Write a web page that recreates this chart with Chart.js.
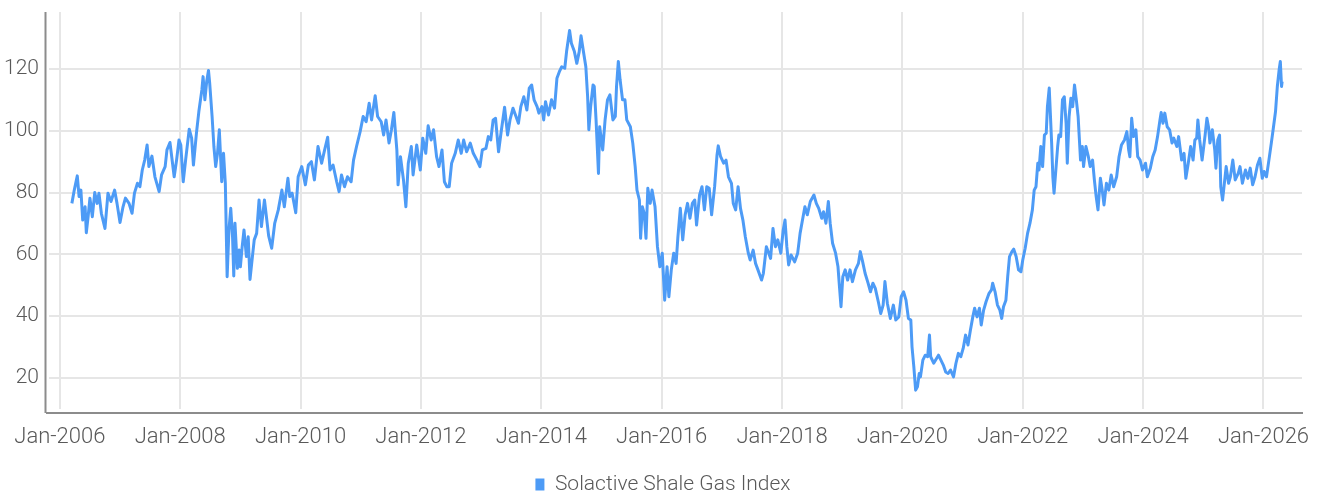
<!DOCTYPE html>
<html>
<head>
<meta charset="utf-8">
<script src="https://cdn.jsdelivr.net/npm/chart.js@4.4.1/dist/chart.umd.min.js"></script>
<style>
  html, body { margin: 0; padding: 0; background: #fff; }
  #wrap { width: 1320px; height: 496px; }
</style>
</head>
<body>
<div id="wrap"><canvas id="line-chart"></canvas></div>
<script>
// Solactive Shale Gas Index as [decimal year, level]
var seg2006 = [[2006.20,76.5],[2006.24,80.8],[2006.29,85.4],[2006.32,78.7],[2006.35,80.8],[2006.38,71.1],[2006.42,75.4],[2006.44,67.0],[2006.47,72.2],[2006.50,78.2],[2006.54,72.2],[2006.58,80.0],[2006.62,76.5],[2006.65,79.8],[2006.69,73.3],[2006.75,68.4],[2006.80,79.8],[2006.85,77.1],[2006.91,80.8],[2006.95,76.5],[2007.00,70.3],[2007.05,75.4],[2007.09,78.2],[2007.15,76.5],[2007.20,73.3],[2007.24,79.8],[2007.29,83.0],[2007.33,81.9],[2007.37,87.3],[2007.41,90.5],[2007.45,95.4],[2007.48,88.4],[2007.53,91.8],[2007.58,85.1],[2007.65,80.3],[2007.69,85.7],[2007.75,88.4],[2007.78,93.8],[2007.83,96.2],[2007.90,85.1],[2007.94,90.5],[2007.98,97.0],[2008.01,95.4],[2008.05,83.5],[2008.09,90.5],[2008.15,100.5],[2008.19,97.6],[2008.22,88.9],[2008.27,99.2],[2008.31,106.2],[2008.36,113.2],[2008.38,117.5],[2008.41,110.0],[2008.44,115.9],[2008.47,119.5],[2008.49,115.4],[2008.53,104.6],[2008.56,94.9],[2008.59,88.4],[2008.62,92.7],[2008.65,100.3],[2008.69,83.5],[2008.72,92.7],[2008.75,83.0],[2008.78,52.8],[2008.81,67.9],[2008.84,74.9],[2008.87,65.7],[2008.89,53.0],[2008.91,70.1],[2008.95,55.5],[2008.98,61.4],[2009.00,56.0],[2009.03,62.5],[2009.06,67.9],[2009.10,59.3],[2009.13,65.7],[2009.16,51.9],[2009.20,59.3],[2009.23,64.7],[2009.27,66.8],[2009.31,77.6],[2009.35,69.0],[2009.40,77.6]];
var seg2009 = [[2009.47,66.0],[2009.52,62.0],[2009.57,70.0],[2009.63,74.4],[2009.69,80.8],[2009.73,75.4],[2009.79,84.6],[2009.82,78.7],[2009.86,79.8],[2009.92,73.5],[2009.96,85.1],[2010.02,88.4],[2010.08,82.5],[2010.13,88.9],[2010.18,90.0],[2010.23,84.1],[2010.29,94.9],[2010.35,89.5],[2010.40,93.8],[2010.45,97.9],[2010.49,87.3],[2010.54,88.9],[2010.60,83.5],[2010.64,80.3],[2010.68,85.7],[2010.73,81.9],[2010.78,85.1],[2010.84,83.5],[2010.88,90.5],[2010.93,94.9],[2010.99,99.7],[2011.04,104.6],[2011.09,102.9],[2011.14,108.9],[2011.18,103.5],[2011.24,111.3],[2011.28,104.6],[2011.34,102.9],[2011.38,98.6],[2011.42,103.5],[2011.47,96.0],[2011.51,100.3],[2011.55,105.9],[2011.60,93.8],[2011.62,82.5],[2011.66,91.6],[2011.71,84.1],[2011.75,75.4],[2011.79,89.5],[2011.84,94.9],[2011.87,85.7],[2011.93,95.4],[2011.99,87.3],[2012.03,97.6],[2012.08,92.7],[2012.12,101.6],[2012.17,97.0],[2012.21,100.3],[2012.26,91.6],[2012.30,88.4],[2012.35,93.8],[2012.39,83.5],[2012.43,81.9],[2012.47,81.9],[2012.51,89.5]];
var seg2012 = [[2012.57,92.7],[2012.62,97.0],[2012.67,92.7],[2012.71,97.0],[2012.76,93.2],[2012.82,96.0],[2012.87,92.7],[2012.93,90.5],[2012.98,88.4],[2013.02,93.8],[2013.08,94.3],[2013.12,98.1],[2013.16,97.0],[2013.20,103.5],[2013.24,104.0],[2013.29,93.2],[2013.33,99.2],[2013.39,107.6],[2013.44,98.6],[2013.48,103.5],[2013.53,107.3],[2013.58,104.6],[2013.62,102.4],[2013.66,107.8],[2013.71,111.0],[2013.76,106.7],[2013.80,113.8],[2013.84,114.8],[2013.88,110.0],[2013.93,107.8],[2013.96,105.7],[2014.01,107.8],[2014.04,103.5],[2014.07,109.4],[2014.12,105.1],[2014.17,110.0],[2014.22,107.3],[2014.26,117.0],[2014.30,119.1],[2014.34,120.7],[2014.39,120.2],[2014.42,125.6],[2014.47,132.4],[2014.50,128.3],[2014.55,125.6],[2014.59,121.8],[2014.63,125.6],[2014.66,130.7],[2014.70,125.6],[2014.74,120.7],[2014.77,111.0],[2014.79,100.3],[2014.82,107.8],[2014.86,114.8],[2014.88,114.3],[2014.91,103.5],[2014.95,86.2],[2014.97,101.3],[2015.02,93.8],[2015.06,103.5],[2015.10,110.0],[2015.14,111.6],[2015.19,103.5],[2015.23,104.6],[2015.25,114.3],[2015.28,122.4],[2015.31,116.4],[2015.35,110.0],[2015.39,110.0],[2015.42,103.5],[2015.48,101.3],[2015.52,96.0],[2015.56,88.4],[2015.59,80.8],[2015.63,77.6],[2015.65,65.2],[2015.68,75.4],[2015.71,73.3],[2015.74,65.2],[2015.77,81.4],[2015.81,76.5],[2015.84,80.8],[2015.89,75.4]];
var seg2016 = [[2015.93,62.5],[2015.97,56.0],[2016.01,60.4],[2016.05,45.2],[2016.09,56.0],[2016.12,46.3],[2016.16,55.0],[2016.20,60.4],[2016.24,57.1],[2016.27,65.7],[2016.31,74.9],[2016.35,64.7],[2016.39,72.8],[2016.43,76.5],[2016.47,71.7],[2016.51,76.5],[2016.55,77.6],[2016.58,69.5],[2016.63,79.2],[2016.67,81.9],[2016.71,74.4],[2016.75,81.9],[2016.79,81.4],[2016.83,72.8],[2016.88,81.9],[2016.92,92.2],[2016.94,95.1],[2016.98,91.6],[2017.03,89.5],[2017.07,90.5],[2017.11,85.1],[2017.16,83.0],[2017.19,76.5],[2017.23,74.4],[2017.27,81.9],[2017.31,74.9],[2017.35,71.1],[2017.39,65.7],[2017.44,60.4],[2017.47,58.2],[2017.52,61.4],[2017.56,57.1],[2017.60,55.0],[2017.66,51.7],[2017.69,53.9],[2017.74,62.5],[2017.78,60.4],[2017.81,58.7],[2017.85,68.4],[2017.89,62.5],[2017.93,64.7],[2017.98,60.4],[2018.02,67.9],[2018.05,71.1],[2018.08,62.5],[2018.11,56.6],[2018.15,59.8],[2018.21,57.6],[2018.26,60.4],[2018.30,66.8],[2018.34,71.1],[2018.38,75.4],[2018.42,72.8],[2018.47,77.1],[2018.53,79.2],[2018.57,76.5],[2018.61,74.9],[2018.66,71.7],[2018.69,73.8],[2018.73,70.1],[2018.77,77.1],[2018.80,70.1],[2018.84,63.6],[2018.89,60.4],[2018.93,56.0],[2018.95,50.7],[2018.98,43.1],[2019.01,52.8],[2019.05,55.0],[2019.09,51.7],[2019.13,55.0],[2019.17,51.2],[2019.22,55.0],[2019.27,57.1],[2019.30,60.9],[2019.34,57.6],[2019.38,53.9]];
var seg2019 = [[2019.43,50.7],[2019.47,47.9],[2019.51,50.7],[2019.55,49.0],[2019.60,44.7],[2019.64,40.9],[2019.68,43.6],[2019.71,51.2],[2019.75,44.2],[2019.80,39.3],[2019.85,43.6],[2019.89,38.8],[2019.94,39.8],[2019.98,46.3],[2020.02,47.9],[2020.06,45.2],[2020.10,39.3],[2020.14,38.8],[2020.16,30.1],[2020.19,23.7],[2020.22,16.1],[2020.25,17.2],[2020.28,21.5],[2020.30,20.4],[2020.34,25.8],[2020.38,27.4],[2020.42,26.9],[2020.45,33.9],[2020.47,26.9],[2020.52,24.8],[2020.55,25.8],[2020.60,27.4],[2020.64,25.8],[2020.68,24.2],[2020.72,22.0],[2020.76,21.5],[2020.80,22.6],[2020.85,20.4],[2020.89,24.8],[2020.93,28.0],[2020.97,26.9],[2021.01,29.6],[2021.05,33.9],[2021.09,30.7],[2021.13,35.5],[2021.17,39.8],[2021.20,42.6],[2021.24,39.8],[2021.28,42.6],[2021.31,37.2],[2021.35,42.0],[2021.39,44.7],[2021.44,47.4],[2021.48,48.5],[2021.50,50.7],[2021.54,47.9],[2021.58,43.6],[2021.62,42.0],[2021.65,39.3],[2021.68,43.1],[2021.72,45.2],[2021.75,52.8],[2021.78,59.3],[2021.82,60.9],[2021.85,61.7],[2021.89,59.3],[2021.93,55.0],[2021.97,54.4],[2022.00,58.2],[2022.04,62.0]];
var seg2022 = [[2022.08,66.8],[2022.12,70.1],[2022.16,74.4],[2022.19,80.8],[2022.22,81.9],[2022.25,89.5],[2022.27,87.3],[2022.30,94.9],[2022.33,88.4],[2022.36,98.6],[2022.39,99.2],[2022.41,107.8],[2022.44,113.8],[2022.48,96.0],[2022.50,85.1],[2022.52,79.8],[2022.55,87.3],[2022.58,94.9],[2022.60,98.6],[2022.63,98.1],[2022.66,110.0],[2022.69,111.0],[2022.72,102.4],[2022.74,89.5],[2022.77,104.6],[2022.80,110.5],[2022.83,107.8],[2022.86,114.8],[2022.89,110.0],[2022.92,104.6],[2022.96,90.5],[2022.99,94.9],[2023.01,88.4],[2023.05,94.9],[2023.09,91.6],[2023.12,88.4],[2023.16,90.5],[2023.19,84.1],[2023.22,78.7],[2023.25,74.4],[2023.29,84.6],[2023.32,80.8],[2023.35,76.0],[2023.39,83.0],[2023.43,80.8],[2023.47,85.7],[2023.51,81.9],[2023.56,85.1],[2023.60,91.6],[2023.64,95.4],[2023.69,97.0],[2023.73,99.7],[2023.76,93.8],[2023.78,91.6],[2023.81,104.0],[2023.84,98.1],[2023.88,100.3],[2023.91,91.6],[2023.95,90.5],[2023.99,87.3],[2024.04,89.5],[2024.07,85.1],[2024.12,87.9],[2024.16,91.6],[2024.20,93.8],[2024.24,98.1],[2024.28,103.5],[2024.30,105.9],[2024.33,102.4],[2024.36,105.7],[2024.40,101.3],[2024.44,100.3],[2024.48,96.0],[2024.51,97.6],[2024.56,94.9],[2024.59,98.1],[2024.64,90.5],[2024.68,92.7],[2024.71,84.6],[2024.75,89.5],[2024.79,94.9],[2024.83,90.5],[2024.86,97.0],[2024.89,97.6],[2024.91,103.5],[2024.94,97.0],[2024.98,90.5],[2025.03,98.6],[2025.06,104.0],[2025.09,100.8],[2025.11,96.0],[2025.15,100.3],[2025.19,93.8],[2025.21,87.9],[2025.24,97.0],[2025.27,98.6],[2025.29,81.9],[2025.32,77.6],[2025.35,83.0],[2025.38,88.4],[2025.42,83.0],[2025.45,85.1],[2025.49,90.5],[2025.53,84.1],[2025.58,86.2],[2025.61,88.4],[2025.65,83.0],[2025.70,87.3],[2025.74,84.6],[2025.78,87.9],[2025.82,82.5],[2025.86,85.1],[2025.90,88.9],[2025.94,91.1],[2025.98,84.6],[2026.01,86.8],[2026.05,85.1],[2026.09,90.5],[2026.13,96.0],[2026.16,100.3],[2026.20,106.2],[2026.23,114.3],[2026.26,119.7],[2026.28,122.4],[2026.30,114.3],[2026.31,115.9]];

var seriesName = 'Solactive Shale Gas Index';
var xTickYears = [2006, 2008, 2010, 2012, 2014, 2016, 2018, 2020, 2022, 2024, 2026];
var yTickValues = [20, 40, 60, 80, 100, 120];

var points = [].concat(seg2006, seg2009, seg2012, seg2016, seg2019, seg2022).map(function (p) {
	return { x: p[0], y: p[1] };
});

var FONT = "Roboto, 'Liberation Sans', sans-serif";
var TEXT = '#595959';
var GRID = '#e6e6e6';
var BLUE = '#4d9bf6';

/* ------------------------------------------------------ */
// axis lines sit a few px outside the grid, like in the picture
var axisLines = {
	id: 'axisLines',
	afterDraw: function (chart) {
		var a = chart.chartArea, ctx = chart.ctx;
		ctx.save();
		ctx.strokeStyle = '#8c8c8c';
		ctx.lineWidth = 2;
		ctx.beginPath();
		ctx.moveTo(a.left - 3.5, a.top);
		ctx.lineTo(a.left - 3.5, a.bottom + 4);
		ctx.moveTo(a.left - 3, a.bottom + 4);
		ctx.lineTo(a.right + 1, a.bottom + 4);
		ctx.stroke();
		ctx.restore();
	}
};

// nudge the legend a little right and up
var legendShift = {
	id: 'legendShift',
	afterLayout: function (chart) {
		var lg = chart.legend;
		if (!lg || lg._shifted) return;
		var draw = lg.draw;
		lg.draw = function () {
			var ctx = chart.ctx;
			ctx.save();
			ctx.translate(12, -2);
			draw.apply(this, arguments);
			ctx.restore();
		};
		lg._shifted = true;
	}
};

/* ------------------------------------------------------ */
window.myChart = new Chart(document.getElementById('line-chart'), {
	type: 'line',
	data: {
		datasets: [
			{
				label: seriesName,
				data: points,
				borderColor: BLUE,
				backgroundColor: BLUE,
				borderWidth: 3,
				pointRadius: 0,
				tension: 0,
				borderJoinStyle: 'round'
			}
		]
	},
	options: {
		responsive: true,
		maintainAspectRatio: false,
		animation: false,
		layout: { padding: { top: 12, right: 18, left: 0, bottom: -11 } },
		scales: {
			x: {
				type: 'linear',
				min: 2005.82,
				max: 2026.64,
				afterFit: function (s) {
					s.height = 65;
					s.paddingLeft = 0;
					s.paddingRight = 0;
				},
				afterBuildTicks: function (s) {
					s.ticks = xTickYears.map(function (v) { return { value: v }; });
				},
				grid: { color: GRID, lineWidth: 2, drawTicks: false },
				border: { display: false },
				ticks: {
					padding: 15,
					maxRotation: 0,
					color: TEXT,
					font: { family: FONT, size: 22, weight: 300 },
					callback: function (v) { return 'Jan-' + v; }
				}
			},
			y: {
				min: 10,
				max: 138.4,
				afterFit: function (s) {
					s.width = 49;
					s.paddingTop = 0;
					s.paddingBottom = 0;
				},
				afterBuildTicks: function (s) {
					s.ticks = yTickValues.map(function (v) { return { value: v }; });
				},
				grid: { color: GRID, lineWidth: 2, drawTicks: false },
				border: { display: false },
				ticks: {
					padding: 10,
					color: TEXT,
					font: { family: FONT, size: 21, weight: 300 }
				}
			}
		},
		plugins: {
			tooltip: { enabled: false },
			legend: {
				position: 'bottom',
				labels: {
					boxWidth: 9,
					boxHeight: 12,
					padding: 2,
					color: TEXT,
					font: { family: FONT, size: 21, weight: 300 },
					generateLabels: function (chart) {
						var items = Chart.defaults.plugins.legend.labels.generateLabels(chart);
						items.forEach(function (it) { it.lineWidth = 0; });
						return items;
					}
				}
			}
		}
	},
	plugins: [axisLines, legendShift]
});
</script>
</body>
</html>
